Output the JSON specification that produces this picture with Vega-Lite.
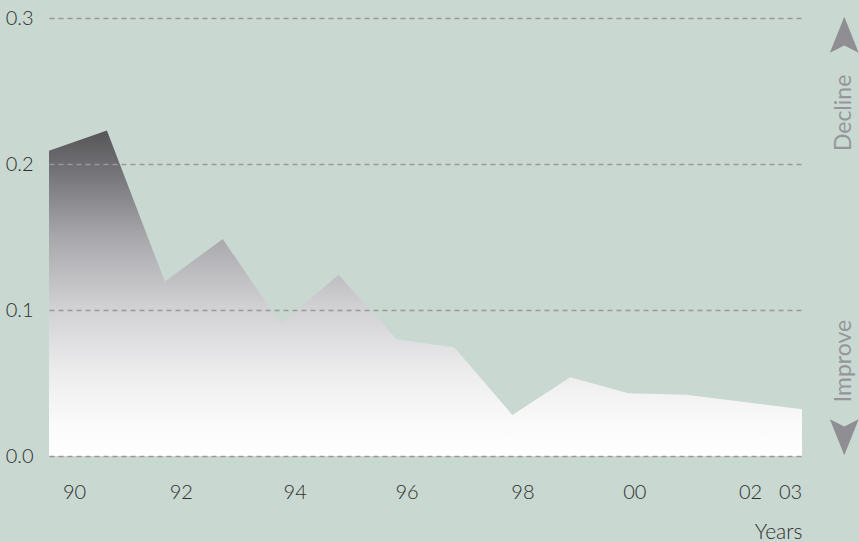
{
  "$schema": "https://vega.github.io/schema/vega-lite/v6.json",
  "width": 753,
  "height": 438,
  "autosize": "none",
  "padding": {"left": 49, "top": 18, "right": 57, "bottom": 86},
  "background": "#c9d9d2",
  "config": {
    "view": {"stroke": null},
    "font": "Lato",
    "axis": {"domain": false, "ticks": false, "tickSize": 0, "labelFont": "Lato", "labelFontWeight": 300, "labelFontSize": 20, "labelColor": "#2e2e2e", "titleFont": "Lato", "titleFontWeight": 300, "titleFontSize": 21, "titleColor": "#2e2e2e"}
  },
  "datasets": {
    "series": [
      {"year": 1990, "value": 0.209},
      {"year": 1991, "value": 0.223},
      {"year": 1992, "value": 0.1195},
      {"year": 1993, "value": 0.1487},
      {"year": 1994, "value": 0.0905},
      {"year": 1995, "value": 0.1241},
      {"year": 1996, "value": 0.080},
      {"year": 1997, "value": 0.0744},
      {"year": 1998, "value": 0.028},
      {"year": 1999, "value": 0.054},
      {"year": 2000, "value": 0.043},
      {"year": 2001, "value": 0.042},
      {"year": 2003, "value": 0.032}
    ],
    "labels": [
      {"year": 2003.73, "value": 0.235, "text": "Decline"},
      {"year": 2003.73, "value": 0.065, "text": "Improve"}
    ],
    "arrows": [
      {"year": 2003.73, "value": 0.2885, "dir": "up"},
      {"year": 2003.73, "value": 0.0128, "dir": "down"}
    ]
  },
  "layer": [
    {
      "data": {"name": "series"},
      "mark": {
        "type": "area",
        "color": {
          "gradient": "linear",
          "x1": 0, "y1": 0, "x2": 0, "y2": 1,
          "stops": [
            {"offset": 0, "color": "#555558"},
            {"offset": 0.12, "color": "#727276"},
            {"offset": 0.33, "color": "#a9a9ad"},
            {"offset": 0.55, "color": "#d2d2d5"},
            {"offset": 0.75, "color": "#ededee"},
            {"offset": 0.9, "color": "#fafafa"},
            {"offset": 1, "color": "#ffffff"}
          ]
        }
      },
      "encoding": {
        "x": {
          "field": "year", "type": "quantitative",
          "scale": {"domain": [1990, 2003], "nice": false, "zero": false},
          "axis": {
            "values": [1990, 1992, 1994, 1996, 1998, 2000, 2002, 2003],
            "labelExpr": "format(datum.value % 100, '02d')",
            "labelFlush": false,
            "labelOverlap": false,
            "labelPadding": 26,
            "labelBaseline": "top",
            "labelOffset": {"condition": [
              {"test": "datum.value == 1990", "value": 25},
              {"test": "datum.value == 1992", "value": 16},
              {"test": "datum.value == 1994", "value": 14},
              {"test": "datum.value == 2000", "value": 6},
              {"test": "datum.value == 2002", "value": 6},
              {"test": "datum.value == 2003", "value": -12}
            ], "value": 10},
            "grid": false,
            "title": "Years",
            "titleAnchor": "end",
            "titleAlign": "right",
            "titleBaseline": "middle",
            "titleX": 753,
            "titleY": 76
          }
        },
        "y": {
          "field": "value", "type": "quantitative",
          "scale": {"domain": [0, 0.3], "nice": false},
          "axis": {
            "values": [0, 0.1, 0.2, 0.3],
            "format": ".1f",
            "labelPadding": 16,
            "grid": true,
            "gridColor": "#999999",
            "gridDash": [5, 4],
            "gridWidth": 1.3,
            "zindex": 1,
            "title": null
          }
        }
      }
    },
    {
      "data": {"name": "labels"},
      "mark": {"type": "text", "angle": 270, "align": "center", "baseline": "middle", "font": "Lato", "fontWeight": 400, "fontSize": 23, "color": "#96969a"},
      "encoding": {
        "x": {"field": "year", "type": "quantitative"},
        "y": {"field": "value", "type": "quantitative"},
        "text": {"field": "text"}
      }
    },
    {
      "data": {"name": "arrows"},
      "mark": {"type": "point", "filled": true, "color": "#8e8e93", "opacity": 1, "size": 1296},
      "encoding": {
        "x": {"field": "year", "type": "quantitative"},
        "y": {"field": "value", "type": "quantitative"},
        "shape": {
          "field": "dir", "type": "nominal",
          "scale": {"domain": ["up", "down"], "range": ["M0,-1L0.8,1L0,0.6L-0.8,1Z", "M0,1L0.8,-1L0,-0.6L-0.8,-1Z"]},
          "legend": null
        }
      }
    }
  ]
}
